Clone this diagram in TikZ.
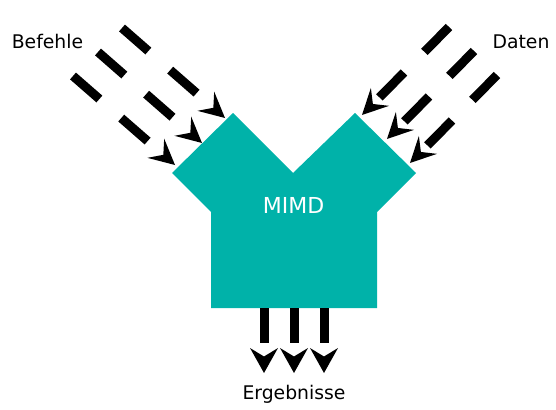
\documentclass[tikz,border=0pt]{standalone}
\usepackage{fontspec}
\setmainfont{DejaVu Sans}
\usetikzlibrary{arrows.meta}
\definecolor{mimdteal}{RGB}{0,178,169}
\tikzset{
  flowtip/.tip={Stealth[length=25.5pt,width=25.5pt,inset=10pt,line width=0pt]},
  downtip/.tip={Stealth[length=25pt,width=28pt,inset=8.5pt,line width=0pt]},
  dashflow/.style={line width=9pt, -{flowtip}, dash pattern=on 35pt off 29pt},
  downflow/.style={line width=9pt, -{downtip}, dash pattern=on 35pt off 100pt},
  lbl/.style={font=\fontsize{18.8}{22}\selectfont, text=black, inner sep=0pt, anchor=base},
  mimdlbl/.style={font=\fontsize{22}{26}\selectfont, text=white, inner sep=0pt, anchor=base},
}
\begin{document}
\begin{tikzpicture}[x=1pt,y=-1pt]
\useasboundingbox (0,0) rectangle (556,409);
% processor shape
\fill[mimdteal] (233,113) -- (293,173) -- (355,113) -- (416,173) -- (377,212)
  -- (377,308) -- (211,308) -- (211,212) -- (172,173) -- cycle;
\node[mimdlbl] (mimd) at (293.5,213) {MIMD};
% labels
\node[lbl] (befehle) at (47.5,49) {Befehle};
\node[lbl] (daten) at (521,49) {Daten};
\node[lbl] (erg) at (294,399) {Ergebnisse};
% instruction streams
\coordinate (as) at (122,28);  \coordinate (ae) at (225,118);
\coordinate (bs) at (98,52);   \coordinate (be) at (202,143);
\coordinate (cs) at (73,76);   \coordinate (ce) at (175,165);
\draw[dashflow] (as) -- (ae);
\draw[dashflow] (bs) -- (be);
\draw[dashflow] (cs) -- (ce);
% data streams
\coordinate (ds) at (449,27);  \coordinate (de) at (362,115);
\coordinate (es) at (474,51);  \coordinate (ee) at (387,139);
\coordinate (fs) at (497,75);  \coordinate (fe) at (410,163);
\draw[dashflow] (ds) -- (de);
\draw[dashflow] (es) -- (ee);
\draw[dashflow] (fs) -- (fe);
% results
\coordinate (g1s) at (264,308); \coordinate (g1e) at (264,373);
\coordinate (g2s) at (294,308); \coordinate (g2e) at (294,373);
\coordinate (g3s) at (324,308); \coordinate (g3e) at (324,373);
\draw[downflow] (g1s) -- (g1e);
\draw[downflow] (g2s) -- (g2e);
\draw[downflow] (g3s) -- (g3e);
\end{tikzpicture}
\end{document}
